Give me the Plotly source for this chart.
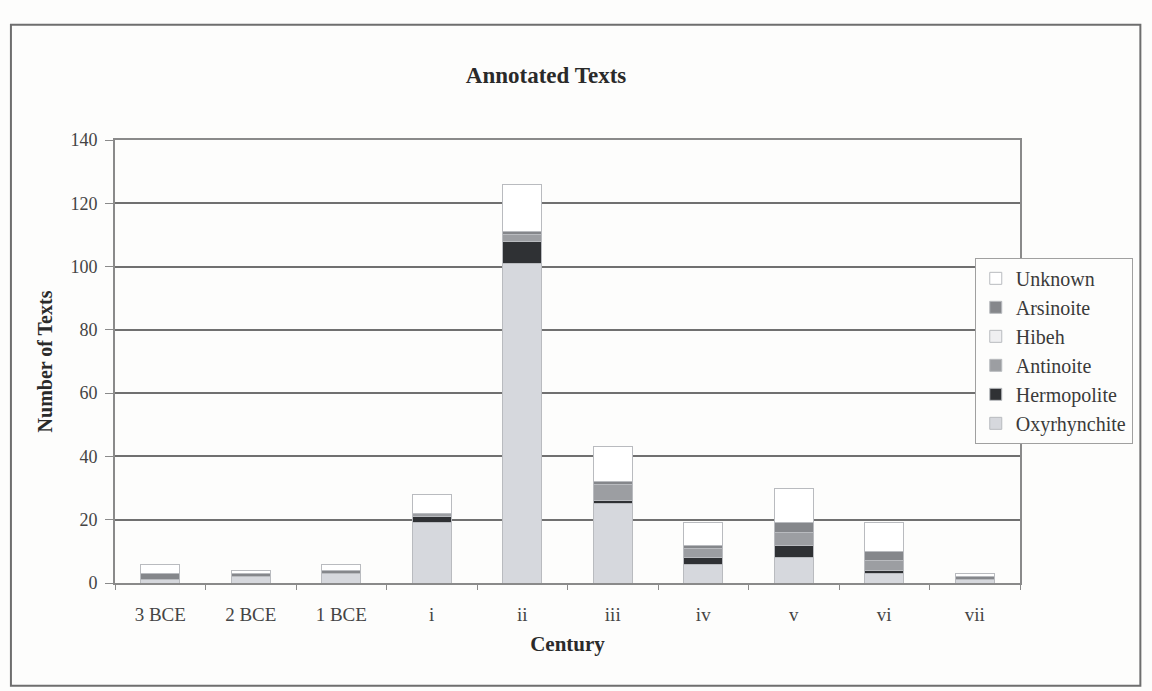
import plotly.graph_objects as go

# Century categories on the x axis
centuries = ["3 BCE", "2 BCE", "1 BCE", "i", "ii", "iii", "iv", "v", "vi", "vii"]

# Counts of annotated texts per provenance (stacked bottom to top)
oxyrhynchite = [1, 2, 3, 19, 101, 25, 6, 8, 3, 1]
hermopolite  = [0, 0, 0, 2, 7, 1, 2, 4, 1, 0]
antinoite    = [0, 0, 0, 1, 2, 5, 3, 4, 3, 0]
hibeh        = [0, 0, 0, 0, 0, 0, 0, 0, 0, 0]
arsinoite    = [2, 1, 1, 0, 1, 1, 1, 3, 3, 1]
unknown      = [3, 1, 2, 6, 15, 11, 7, 11, 9, 1]

series = [
    ("Oxyrhynchite", oxyrhynchite, "#d6d8dd"),
    ("Hermopolite", hermopolite, "#2f3134"),
    ("Antinoite", antinoite, "#9c9ea2"),
    ("Hibeh", hibeh, "#efeff1"),
    ("Arsinoite", arsinoite, "#85878b"),
    ("Unknown", unknown, "#ffffff"),
]

serif = "Liberation Serif, Times New Roman, serif"

fig = go.Figure()
for name, vals, color in series:
    fig.add_trace(go.Bar(
        name=name, x=centuries, y=vals,
        marker=dict(color=color, line=dict(color="#b9bbbf", width=1)),
    ))

fig.update_layout(
    barmode="stack",
    bargap=0.57,
    width=1152, height=691,
    paper_bgcolor="#fdfdfc",
    plot_bgcolor="#fdfdfc",
    margin=dict(l=115, r=132, t=140, b=108),
    title=dict(text="<b>Annotated Texts</b>", x=0.474, xanchor="center",
               y=0.891, yanchor="middle",
               font=dict(family=serif, size=23, color="#2a2a2a")),
    font=dict(family=serif, size=18, color="#3a3a3a"),
    legend=dict(
        traceorder="reversed",
        x=0.950, xanchor="left", y=0.734, yanchor="top",
        bgcolor="#fdfdfc", bordercolor="#a0a0a0", borderwidth=1,
        font=dict(family=serif, size=20, color="#3a3a3a"),
        tracegroupgap=0, itemwidth=30,
    ),
    showlegend=True,
)

fig.update_xaxes(
    title=dict(text="<b>Century</b>", font=dict(family=serif, size=21, color="#2a2a2a"),
               standoff=13),
    showline=True, linecolor="#8a8a8a", linewidth=2, mirror=True,
    ticks="outside", tickson="boundaries", ticklen=5, tickcolor="#8a8a8a",
    ticklabelstandoff=13,
    tickfont=dict(family=serif, size=19, color="#444444"),
    showgrid=False,
)
fig.update_yaxes(
    title=dict(text="<b>Number of Texts</b>", font=dict(family=serif, size=20, color="#2a2a2a"),
               standoff=12),
    range=[0, 140], dtick=20,
    showline=True, linecolor="#8a8a8a", linewidth=2, mirror=True,
    ticks="outside", ticklen=8, tickcolor="#8a8a8a",
    ticklabelstandoff=4,
    tickfont=dict(family=serif, size=18, color="#444444"),
    showgrid=True, gridcolor="#707070", gridwidth=2,
    zeroline=False,
)

# Outer frame around the whole chart
fig.add_shape(type="rect", xref="paper", yref="paper",
              x0=-0.115, x1=1.133, y0=-0.232, y1=1.26,
              line=dict(color="#6e6e6e", width=2), fillcolor="rgba(0,0,0,0)",
              layer="below")

fig.write_html("out.html")
